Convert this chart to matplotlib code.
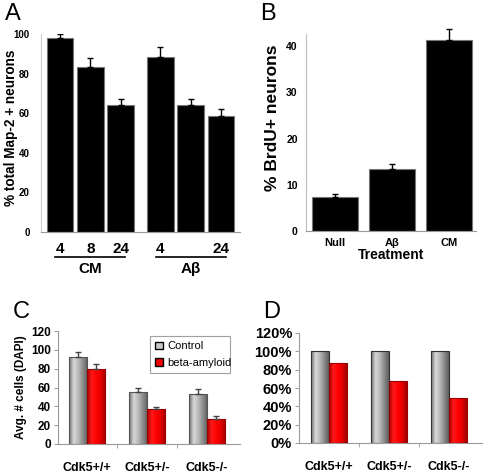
import numpy as np
import matplotlib
matplotlib.use("Agg")
import matplotlib.pyplot as plt
from matplotlib.colors import LinearSegmentedColormap
from matplotlib.patches import Patch

plt.rcParams['font.family'] = ['Liberation Sans', 'DejaVu Sans']

# ---- data ----
a_labels = ['4', '8', '24', '4', '', '24']
a_vals = [98, 83.5, 64, 88.5, 64, 58.5]
a_err = [2, 4.4, 3.4, 4.8, 3.4, 3.7]
a_groups = ['CM', 'A\u03b2']

b_labels = ['Null', 'A\u03b2', 'CM']
b_vals = [7.4, 13.5, 41.4]
b_err = [0.7, 0.9, 2.2]

genotypes = ['Cdk5+/+', 'Cdk5+/-', 'Cdk5-/-']
c_control = [92.5, 55.4, 52.6]
c_control_err = [4.9, 4.2, 5.6]
c_abeta = [79.4, 37.4, 26.1]
c_abeta_err = [5.3, 2.1, 3.2]

d_control = [100, 100, 100]
d_abeta = [87, 67.5, 49.5]

W, H = 488, 476
fig = plt.figure(figsize=(W / 100, H / 100), dpi=100)


def ax_px(l, r, b, t):
    return fig.add_axes([l / W, 1 - b / H, (r - l) / W, (b - t) / H])


gray_cm = LinearSegmentedColormap.from_list(
    'g', ['#6e6e6e', '#d8d8d8', '#b8b8b8', '#8a8a8a', '#5e5e5e'])
red_cm = LinearSegmentedColormap.from_list(
    'r', ['#b00000', '#ff1a1a', '#ff0000', '#e00000', '#a00000'])


def shaded_bars(ax, x, h, w, cmap, edge):
    bars = ax.bar(x, h, w, color='none', edgecolor=edge, linewidth=0.8, zorder=3)
    grad = np.linspace(0, 1, 64).reshape(1, -1)
    for b in bars:
        x0, y0 = b.get_x(), b.get_y()
        im = ax.imshow(grad, cmap=cmap, aspect='auto', zorder=2,
                       extent=[x0, x0 + b.get_width(), y0, y0 + b.get_height()])
        im.set_clip_path(b)
    return bars


def bold_ticks(ax):
    for t in ax.get_yticklabels() + ax.get_xticklabels():
        t.set_fontweight('bold')


# ---- Panel A ----
axA = ax_px(41, 240, 232, 34)
xa = [0, 1, 2, 3.3, 4.3, 5.3]
axA.bar(xa, a_vals, 0.87, color='black', edgecolor='#777777', linewidth=0.8)
axA.errorbar(xa, a_vals, yerr=[[0] * 6, a_err], fmt='none', ecolor='black',
             elinewidth=1, capsize=2)
axA.set_xlim(-0.62, 5.92)
axA.set_ylim(0, 100)
axA.set_yticks([0, 20, 40, 60, 80, 100])
axA.tick_params(axis='y', length=0, labelsize=7, pad=8)
axA.set_xticks(xa)
axA.set_xticklabels(a_labels, fontsize=11)
axA.tick_params(axis='x', length=0, pad=7)
bold_ticks(axA)
for s in ['top', 'right']:
    axA.spines[s].set_visible(False)
axA.spines['left'].set_color('#cccccc')
axA.spines['bottom'].set_color('#999999')
axA.set_ylabel('% total Map-2 + neurons', fontsize=9.8, fontweight='bold')
axA.yaxis.set_label_coords((18 - 41) / 199, (232 - 128) / 198)
for (g0, g1), name in zip([(0, 2), (3.3, 5.3)], a_groups):
    axA.plot([g0 - 0.15, g1 + 0.15], [-12.8, -12.8], color='black', lw=1.2,
             clip_on=False)
    axA.text((g0 + g1) / 2, -15, name, ha='center', va='top', fontsize=11,
             fontweight='bold')

# ---- Panel B ----
axB = ax_px(306, 476, 231, 34)
xb = np.arange(3)
axB.bar(xb, b_vals, 0.81, color='black', edgecolor='#777777', linewidth=0.8)
axB.errorbar(xb, b_vals, yerr=[[0] * 3, b_err], fmt='none', ecolor='black',
             elinewidth=1, capsize=2, clip_on=False)
axB.set_xlim(-0.51, 2.48)
axB.set_ylim(0, 42.6)
axB.set_yticks([0, 10, 20, 30, 40])
axB.tick_params(axis='y', length=0, labelsize=7.5, pad=6)
axB.set_xticks(xb)
axB.set_xticklabels(b_labels, fontsize=8)
axB.tick_params(axis='x', length=0, pad=5)
bold_ticks(axB)
for s in ['top', 'right']:
    axB.spines[s].set_visible(False)
axB.spines['left'].set_color('#bbbbbb')
axB.spines['bottom'].set_color('#999999')
axB.set_ylabel('% BrdU+ neurons', fontsize=12.5, fontweight='bold')
axB.yaxis.set_label_coords((280 - 306) / 170, (231 - 118) / 197)
axB.set_xlabel('Treatment', fontsize=10, fontweight='bold', labelpad=0)

# ---- Panel C ----
axC = ax_px(58, 240, 444, 331)
xc = np.arange(3)
w = 0.3
shaded_bars(axC, xc - w / 2, c_control, w, gray_cm, '#555555')
shaded_bars(axC, xc + w / 2, c_abeta, w, red_cm, '#990000')
axC.errorbar(xc - w / 2, c_control, yerr=[[0] * 3, c_control_err], fmt='none',
             ecolor='#444444', elinewidth=1, capsize=2, zorder=4)
axC.errorbar(xc + w / 2, c_abeta, yerr=[[0] * 3, c_abeta_err], fmt='none',
             ecolor='#444444', elinewidth=1, capsize=2, zorder=4)
axC.set_xlim(-0.48, 2.55)
axC.set_ylim(0, 120)
axC.set_yticks(range(0, 121, 20))
axC.tick_params(axis='y', length=3, width=0.6, color='#888888', labelsize=8.5, pad=2)
axC.set_xticks(xc)
axC.set_xticklabels(genotypes, fontsize=9)
axC.tick_params(axis='x', length=0, pad=13)
bold_ticks(axC)
for s in ['top', 'right']:
    axC.spines[s].set_visible(False)
axC.spines['left'].set_color('#999999')
axC.spines['bottom'].set_color('#999999')
axC.set_xticks([0.5, 1.5], minor=True)
axC.tick_params(axis='x', which='minor', length=3, color='#999999')
axC.set_ylabel('Avg. # cells (DAPI)', fontsize=8.5, fontweight='bold', labelpad=3)
handles = [Patch(facecolor='#c8c8c8', edgecolor='black', label='Control'),
           Patch(facecolor='#ee0000', edgecolor='black', label='beta-amyloid')]
leg = fig.legend(handles=handles, loc='lower left',
                 bbox_to_anchor=(150 / W, 1 - 373 / H, 80 / W, 41 / H),
                 mode='expand', fontsize=8, frameon=True, fancybox=False,
                 handlelength=0.7, handleheight=0.7, handletextpad=0.4,
                 labelspacing=0.6, borderpad=0.45, borderaxespad=0)
leg.get_frame().set_edgecolor('#888888')
leg.get_frame().set_linewidth(0.8)

# ---- Panel D ----
axD = ax_px(299, 482, 443, 333)
xd = np.arange(3)
shaded_bars(axD, xd - w / 2, d_control, w, gray_cm, '#333333')
shaded_bars(axD, xd + w / 2, d_abeta, w, red_cm, '#990000')
axD.set_xlim(-0.5, 2.55)
axD.set_ylim(0, 120)
axD.set_yticks(range(0, 121, 20))
axD.set_yticklabels(['%d%%' % v for v in range(0, 121, 20)])
axD.tick_params(axis='y', length=3, width=0.6, color='#888888', labelsize=10.5, pad=2)
axD.set_xticks(xd)
axD.set_xticklabels(genotypes, fontsize=9)
axD.tick_params(axis='x', length=0, pad=13)
bold_ticks(axD)
axD.set_xticks([0.5, 1.5], minor=True)
axD.tick_params(axis='x', which='minor', length=3, color='#999999')
for s in ['top', 'right']:
    axD.spines[s].set_visible(False)
axD.spines['left'].set_color('#999999')
axD.spines['bottom'].set_color('#999999')

# ---- panel letters ----
for lbl, x, y in [('A', 5, 3), ('B', 260, 3), ('C', 13, 301), ('D', 263, 301)]:
    fig.text(x / W, 1 - y / H, lbl, fontsize=17, ha='left', va='top')

fig.savefig('out.png', dpi=100)
